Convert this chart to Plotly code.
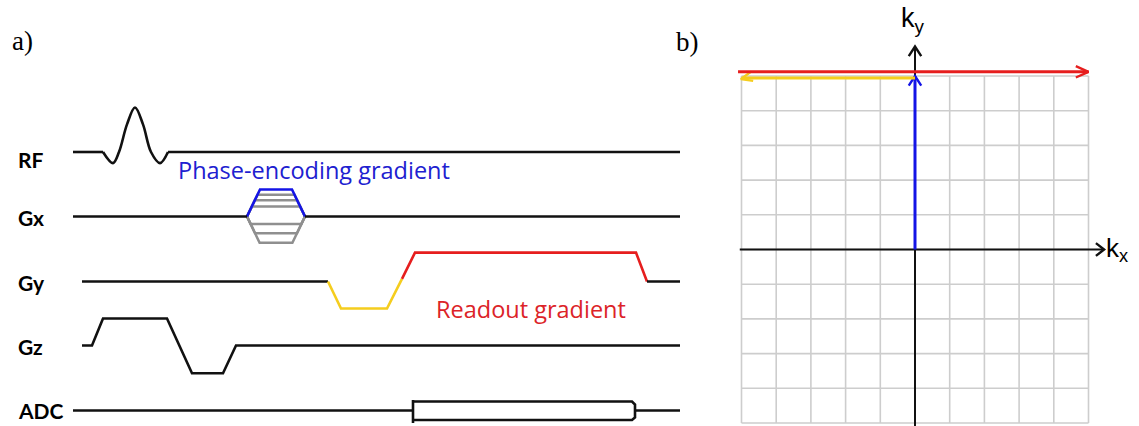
import math
import plotly.graph_objects as go

# ---------------- data ----------------
channels = ["RF", "Gx", "Gy", "Gz", "ADC"]
channel_start = [73, 73, 82, 82, 73]          # time where each trace line starts
t_end = 680

# RF sinc pulse (time, normalised amplitude)
rf_t = [103, 113, 119, 127, 135, 143, 151, 160, 168]
rf_amp = [0, -0.25, 0, 0.62, 1.0, 0.62, 0, -0.25, 0]

# Gx phase-encoding table (blue = current step, grey = other steps)
pe_t = [247, 305]
pe_ramp = 13
pe_current = 1.0
pe_steps = [0.81, 0.60, 0.375, -0.28, -0.62, -0.97]

# Gy: prephaser (yellow) and readout (red)
gy_pre_t = [328, 341, 387, 402]
gy_pre_amp = [0, -1.0, -1.0, 0.1]
gy_ro_t = [402, 415, 636, 647]
gy_ro_amp = [0.1, 1.07, 1.07, 0]

# Gz slice select + rephaser
gz_t = [82, 92, 103, 167, 192, 223, 236, 680]
gz_amp = [0, 0, 1.0, 1.0, -1.03, -1.03, 0, 0]

# ADC window
adc_window = [413, 635]

# k-space
k_ticks = list(range(-5, 6))
traj_pe_ky = [0, 5]       # blue: phase encode along ky
traj_pre_kx = [0, -5]     # yellow: prephaser along kx
traj_ro_kx = [-5, 5]      # red: readout along kx

# ---------------- styling / layout constants ----------------
W, H = 1139, 426
row_y = {"RF": 152, "Gx": 216.5, "Gy": 281.5, "Gz": 345.5, "ADC": 410.5}
label_y = {"RF": 159, "Gx": 217, "Gy": 282, "Gz": 346, "ADC": 410}
G_SCALE = 27
RF_SCALE = 44.5
BLACK = "#111111"
BLUE = "#1414e6"
RED = "#e61e1e"
YELLOW = "#f5cd1e"
GREY = "#8f8f8f"
GRID = "#cdcdcd"
LW = 2.6

fig = go.Figure()


def Y(ch, amps, scale=G_SCALE):
    return [row_y[ch] - a * scale for a in amps]


def add_line(x, y, color=BLACK, width=LW, shape="linear", xa="x", ya="y"):
    fig.add_trace(go.Scatter(x=x, y=y, mode="lines", xaxis=xa, yaxis=ya,
                             line=dict(color=color, width=width, shape=shape),
                             hoverinfo="skip"))


# RF
add_line([channel_start[0], rf_t[0], None, rf_t[-1], t_end],
         [row_y["RF"]] * 2 + [None] + [row_y["RF"]] * 2)
add_line(rf_t, Y("RF", rf_amp, RF_SCALE), shape="spline")

# Gx
for a in pe_steps:
    r = pe_ramp * abs(a)
    add_line([pe_t[0], pe_t[0] + r, pe_t[1] - r, pe_t[1]],
             Y("Gx", [0, a, a, 0]), color=GREY, width=2.5)
add_line([pe_t[0], pe_t[0] + pe_ramp, pe_t[1] - pe_ramp, pe_t[1]],
         Y("Gx", [0, pe_current, pe_current, 0]), color=BLUE, width=LW)
add_line([channel_start[1], pe_t[0], None, pe_t[1], t_end],
         [row_y["Gx"]] * 2 + [None] + [row_y["Gx"]] * 2)

# Gy
add_line([channel_start[2], gy_pre_t[0]], [row_y["Gy"]] * 2)
add_line(gy_pre_t, Y("Gy", gy_pre_amp), color=YELLOW)
add_line(gy_ro_t, Y("Gy", gy_ro_amp), color=RED)
add_line([gy_ro_t[-1], t_end], [row_y["Gy"]] * 2)

# Gz
add_line(gz_t, Y("Gz", gz_amp))

# ADC
ya = row_y["ADC"]
a0, a1 = adc_window
add_line([channel_start[4], a0, None, a0, a0, None, a1, t_end],
         [ya, ya, None, ya - 10.5, ya + 12.5, None, ya, ya])
add_line([a0, a1 - 3, a1, a1, a1 - 3, a0],
         [ya - 9, ya - 9, ya - 6, ya + 7, ya + 9.5, ya + 9.5])

# ---------------- k-space panel ----------------
kmin, kmax = k_ticks[0], k_ticks[-1]
gx, gy = [], []
for k in k_ticks:
    gx += [k, k, None]
    gy += [kmin, kmax, None]
    gx += [kmin, kmax, None]
    gy += [k, k, None]
add_line(gx, gy, color=GRID, width=1.6, xa="x2", ya="y2")


def chevron(tip, d, color, L=0.36, ang=32, width=2.4):
    dx, dy = d
    n = math.hypot(dx, dy)
    dx, dy = dx / n, dy / n
    pts_x, pts_y = [], []
    for s in (1, -1):
        t = math.radians(ang) * s
        bx = -(dx * math.cos(t) - dy * math.sin(t))
        by = -(dx * math.sin(t) + dy * math.cos(t))
        pts_x.append(tip[0] + L * bx)
        pts_y.append(tip[1] + L * by)
    add_line([pts_x[0], tip[0], pts_x[1]], [pts_y[0], tip[1], pts_y[1]],
             color=color, width=width, xa="x2", ya="y2")


# axes
add_line([kmin - 0.05, kmax + 0.45], [0, 0], color=BLACK, width=2.0, xa="x2", ya="y2")
chevron((kmax + 0.45, 0), (1, 0), BLACK, L=0.3, ang=38)
add_line([0, 0], [kmin - 0.12, kmax + 0.85], color=BLACK, width=2.0, xa="x2", ya="y2")
chevron((0, kmax + 0.85), (0, 1), BLACK, L=0.33, ang=33)

# trajectory
add_line([0, 0], traj_pe_ky, color=BLUE, width=3, xa="x2", ya="y2")
chevron((0, traj_pe_ky[1]), (0, 1), BLUE, L=0.33, ang=33)
y_pre = traj_pe_ky[1] - 0.06
add_line(traj_pre_kx, [y_pre, y_pre], color=YELLOW, width=3, xa="x2", ya="y2")
chevron((traj_pre_kx[1] - 0.02, y_pre - 0.03), (-1, -0.25), YELLOW, L=0.36, ang=22)
y_ro = traj_pe_ky[1] + 0.12
add_line([traj_ro_kx[0] - 0.1, traj_ro_kx[1]], [y_ro, y_ro], color=RED, width=3, xa="x2", ya="y2")
chevron((traj_ro_kx[1], y_ro), (1, 0), RED, L=0.4, ang=24)

# ---------------- text ----------------
ann = []
ann.append(dict(text="a)", x=10, y=41, xref="x", yref="y", xanchor="left", yanchor="middle",
                showarrow=False, font=dict(family="Liberation Serif", size=27, color="black")))
ann.append(dict(text="b)", x=674 / W, y=1 - 42 / H, xref="paper", yref="paper", xanchor="left",
                yanchor="middle", showarrow=False,
                font=dict(family="Liberation Serif", size=27, color="black")))
for ch in channels:
    ann.append(dict(text="<b>%s</b>" % ch, x=16, y=label_y[ch], xref="x", yref="y",
                    xanchor="left", yanchor="middle", showarrow=False,
                    font=dict(family="Lato", size=21, color="black")))
ann.append(dict(text="Phase-encoding gradient", x=314, y=170, xref="x", yref="y",
                xanchor="center", yanchor="middle", showarrow=False,
                font=dict(family="Open Sans", size=23.5, color="#2020d0")))
ann.append(dict(text="Readout gradient", x=531, y=309, xref="x", yref="y",
                xanchor="center", yanchor="middle", showarrow=False,
                font=dict(family="Open Sans", size=23.5, color="#dc2328")))
ann.append(dict(text="k<sub>y</sub>", x=-0.45, y=6.6, xref="x2", yref="y2",
                xanchor="left", yanchor="middle", showarrow=False,
                font=dict(family="Liberation Sans", size=27, color="black")))
ann.append(dict(text="k<sub>x</sub>", x=5.45, y=0.0, xref="x2", yref="y2",
                xanchor="left", yanchor="middle", showarrow=False,
                font=dict(family="Liberation Sans", size=26, color="black")))

PX = 34.7      # px per k unit
CX, CY = 915, 249.5
xr = 6.3
fig.update_layout(
    width=W, height=H, margin=dict(l=0, r=0, t=0, b=0),
    paper_bgcolor="white", plot_bgcolor="white", showlegend=False,
    annotations=ann,
    xaxis=dict(domain=[0, 0.6], range=[0, 0.6 * W], visible=False, fixedrange=True),
    yaxis=dict(domain=[0, 1], range=[H, 0], visible=False, fixedrange=True),
    xaxis2=dict(domain=[(CX - xr * PX) / W, (CX + xr * PX) / W], range=[-xr, xr],
                visible=False, anchor="y2", fixedrange=True),
    yaxis2=dict(domain=[0, 1], range=[-(H - CY) / PX, CY / PX], visible=False,
                anchor="x2", fixedrange=True),
)

fig.write_html("out.html", config={"displayModeBar": False},
               post_script="document.body.style.margin='0';document.body.style.overflow='hidden';")
